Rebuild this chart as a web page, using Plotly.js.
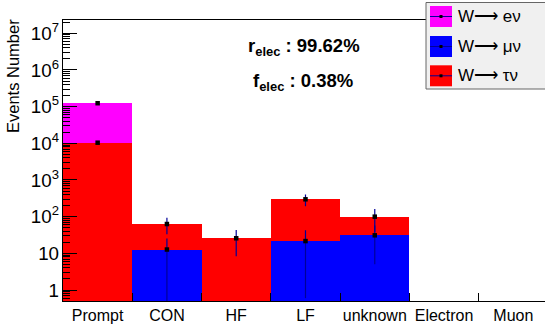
<!DOCTYPE html>
<html>
<head>
<meta charset="utf-8">
<script src="https://cdn.plot.ly/plotly-3.0.1.min.js"></script>
<style>
html,body{margin:0;padding:0;background:#fff;overflow:hidden;}
#chart{width:545px;height:329px;}
</style>
</head>
<body>
<div id="chart"></div>
<script>
// ---- data ----
const categories = ['Prompt', 'CON', 'HF', 'LF', 'unknown', 'Electron', 'Muon'];
const seriesNames = ['W\u27f6 e\u03bd', 'W\u27f6 \u03bc\u03bd', 'W\u27f6 \u03c4\u03bd'];
const wMuNu  = [0, 12.7, 0, 21.6, 31, 0, 0];
const wTauNu = [10400, 50.3, 25.8, 276, 69, 0, 0];
const wENu   = [113600, 0, 0, 0, 0, 0, 0];
// errors of the stacked (cumulative) levels
const errMuNu  = [0, 12.5, 0, 21, 26, 0, 0];
const errMuTau = [100, 30, 17.5, 105, 62, 0, 0];
const errAll   = [400, 30, 17.5, 105, 62, 0, 0];
const rElec = '99.62%';
const fElec = '0.38%';

// ---- styles ----
const FONT = 'Liberation Sans, Arial, Helvetica, sans-serif';
const colMu = '#0000ff', colTau = '#ff0000', colE = '#ff00ff';
const navy = '#000099';

// plot area in pixels
const L = 63, R = 545, T = 20, B = 301;
const px = x => (x - L) / (R - L);
const py = y => (B - y) / (B - T);

const cum1 = wMuNu.slice();
const cum2 = wMuNu.map((v, i) => v + wTauNu[i]);
const cum3 = cum2.map((v, i) => v + wENu[i]);

function barTrace(vals, color, name) {
  return {type: 'bar', x: categories, y: vals, name: name,
    marker: {color: color, line: {width: 0}}, hoverinfo: 'skip', showlegend: false};
}
function errTrace(vals, errs, show) {
  const y = vals.map((v, i) => (show[i] > 0 ? v : null));
  return {type: 'scatter', mode: 'markers', x: categories, y: y, showlegend: false,
    marker: {symbol: 'square', size: 4.5, color: '#000'},
    error_y: {type: 'data', array: errs, visible: true, color: navy, thickness: 1.2, width: 0},
    error_x: {type: 'constant', value: 0.5, visible: true, color: navy, thickness: 1.5, width: 0},
    hoverinfo: 'skip'};
}

const data = [
  barTrace(wMuNu, colMu, seriesNames[1]),
  barTrace(wTauNu, colTau, seriesNames[2]),
  barTrace(wENu, colE, seriesNames[0]),
  errTrace(cum1, errMuNu, wMuNu),
  errTrace(cum2, errMuTau, wTauNu),
  errTrace(cum3, errAll, wENu)
];

// legend drawn by hand (ROOT style)
const shapes = [];
const annotations = [];
shapes.push({type: 'rect', xref: 'paper', yref: 'paper', x0: px(426), x1: px(549), y0: py(2.5), y1: py(89),
  fillcolor: '#f0f0f0', line: {color: '#666', width: 1}});
const legCols = [colE, colMu, colTau];
const rowY = [16.5, 46.5, 75.8];
for (let i = 0; i < 3; i++) {
  const cy = rowY[i];
  shapes.push({type: 'rect', xref: 'paper', yref: 'paper', x0: px(430), x1: px(452), y0: py(cy - 10.5), y1: py(cy + 10.5),
    fillcolor: legCols[i], line: {width: 0}});
  shapes.push({type: 'line', xref: 'paper', yref: 'paper', x0: px(430), x1: px(452), y0: py(cy), y1: py(cy),
    line: {color: navy, width: 1}});
  shapes.push({type: 'rect', xref: 'paper', yref: 'paper', x0: px(439.5), x1: px(442.5), y0: py(cy - 1.5), y1: py(cy + 1.5),
    fillcolor: '#000', line: {width: 0}});
  annotations.push({xref: 'paper', yref: 'paper', x: px(456), y: py(cy), xanchor: 'left', yanchor: 'middle',
    text: seriesNames[i], showarrow: false, font: {family: FONT, size: 17, color: '#000'}});
}
annotations.push({xref: 'paper', yref: 'paper', x: px(304), y: py(47), xanchor: 'center', yanchor: 'middle',
  text: '<b>r<sub>elec</sub> : ' + rElec + '</b>', showarrow: false, font: {family: FONT, size: 18.5, color: '#000'}});
annotations.push({xref: 'paper', yref: 'paper', x: px(303), y: py(82), xanchor: 'center', yanchor: 'middle',
  text: '<b>f<sub>elec</sub> : ' + fElec + '</b>', showarrow: false, font: {family: FONT, size: 18.5, color: '#000'}});
annotations.push({xref: 'paper', yref: 'paper', x: px(13), y: py(17), xanchor: 'center', yanchor: 'top',
  text: 'Events Number', textangle: -90, showarrow: false, font: {family: FONT, size: 16.5, color: '#000'}});

const layout = {
  width: 545, height: 329,
  margin: {l: L, r: 545 - R, t: T, b: 329 - B, pad: 0},
  paper_bgcolor: '#fff', plot_bgcolor: '#fff',
  barmode: 'stack', bargap: 0,
  showlegend: false,
  font: {family: FONT, size: 15, color: '#000'},
  xaxis: {
    type: 'category', range: [-0.5, 6.457], fixedrange: true,
    showline: true, linecolor: '#000', linewidth: 1, mirror: true,
    ticks: 'inside', tickson: 'boundaries', ticklen: 8, tickcolor: '#000', tickwidth: 1,
    tickangle: 0,
    showgrid: false, zeroline: false,
    tickfont: {family: FONT, size: 16, color: '#000'}
  },
  yaxis: {
    type: 'log', range: [-0.3, 7.363], fixedrange: true,
    showline: true, linecolor: '#000', linewidth: 1, mirror: false,
    ticks: 'inside', ticklen: 14, tickcolor: '#000', tickwidth: 1, dtick: 1,
    exponentformat: 'power', showgrid: false, zeroline: false,
    tickfont: {family: FONT, size: 15, color: '#000'},
    minor: {ticks: 'inside', ticklen: 7, tickcolor: '#000', tickwidth: 1, dtick: 'D1', showgrid: false}
  },
  shapes: shapes,
  annotations: annotations
};

Plotly.newPlot('chart', data, layout, {displayModeBar: false, staticPlot: true});
</script>
</body>
</html>
